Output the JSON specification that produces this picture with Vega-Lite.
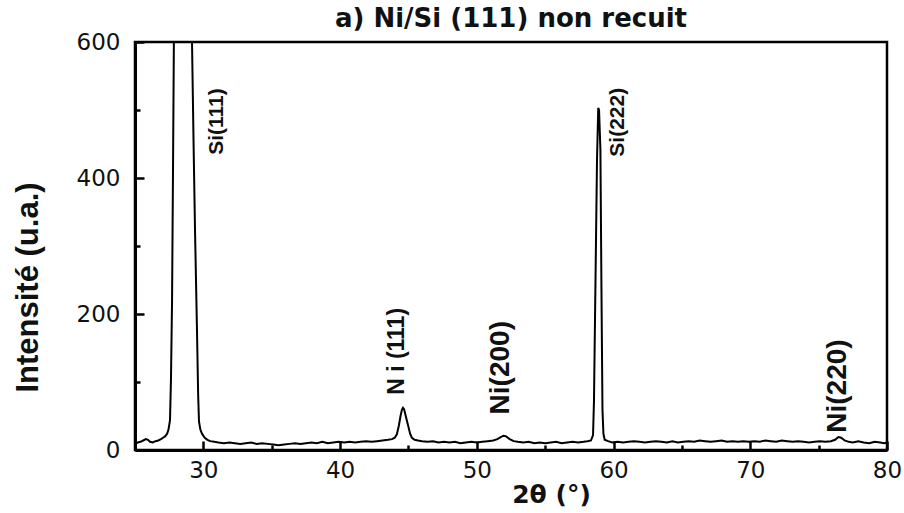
{
  "$schema": "https://vega.github.io/schema/vega-lite/v6.json",
  "width": 752,
  "height": 408,
  "autosize": {"type": "none"},
  "padding": {"left": 135, "top": 42, "right": 17, "bottom": 63},
  "background": "white",
  "title": {
    "text": "a) Ni/Si (111) non recuit",
    "font": "DejaVu Sans",
    "fontSize": 26,
    "fontWeight": "bold",
    "color": "#111",
    "anchor": "middle",
    "offset": 13,
    "dy": 14
  },
  "config": {
    "view": {"stroke": "black", "strokeWidth": 2.5},
    "axis": {"grid": false}
  },
  "datasets": {
    "pattern": [
      {"theta": 25.0, "intensity": 9}, {"theta": 25.2, "intensity": 11}, {"theta": 25.4, "intensity": 12},
      {"theta": 25.6, "intensity": 14}, {"theta": 25.8, "intensity": 16}, {"theta": 25.95, "intensity": 15},
      {"theta": 26.1, "intensity": 12}, {"theta": 26.3, "intensity": 11}, {"theta": 26.5, "intensity": 13},
      {"theta": 26.7, "intensity": 14}, {"theta": 26.9, "intensity": 16}, {"theta": 27.05, "intensity": 18},
      {"theta": 27.2, "intensity": 20}, {"theta": 27.35, "intensity": 24}, {"theta": 27.45, "intensity": 30},
      {"theta": 27.56, "intensity": 44}, {"theta": 27.63, "intensity": 103}, {"theta": 27.71, "intensity": 220},
      {"theta": 27.78, "intensity": 412}, {"theta": 27.85, "intensity": 620}, {"theta": 27.95, "intensity": 900},
      {"theta": 28.2, "intensity": 1300}, {"theta": 28.5, "intensity": 1450}, {"theta": 28.8, "intensity": 1300},
      {"theta": 29.05, "intensity": 900}, {"theta": 29.17, "intensity": 600}, {"theta": 29.28, "intensity": 456},
      {"theta": 29.39, "intensity": 323}, {"theta": 29.53, "intensity": 180}, {"theta": 29.62, "intensity": 80},
      {"theta": 29.68, "intensity": 42}, {"theta": 29.78, "intensity": 30}, {"theta": 29.9, "intensity": 24},
      {"theta": 30.1, "intensity": 18}, {"theta": 30.3, "intensity": 15}, {"theta": 30.5, "intensity": 13},
      {"theta": 30.8, "intensity": 12}, {"theta": 31.1, "intensity": 11}, {"theta": 31.5, "intensity": 10},
      {"theta": 31.9, "intensity": 11}, {"theta": 32.3, "intensity": 10}, {"theta": 32.7, "intensity": 9},
      {"theta": 33.1, "intensity": 10}, {"theta": 33.5, "intensity": 11}, {"theta": 33.9, "intensity": 9},
      {"theta": 34.3, "intensity": 10}, {"theta": 34.7, "intensity": 9}, {"theta": 35.1, "intensity": 8},
      {"theta": 35.5, "intensity": 7}, {"theta": 35.9, "intensity": 8}, {"theta": 36.3, "intensity": 9},
      {"theta": 36.7, "intensity": 10}, {"theta": 37.1, "intensity": 9}, {"theta": 37.5, "intensity": 10},
      {"theta": 37.9, "intensity": 11}, {"theta": 38.3, "intensity": 10}, {"theta": 38.7, "intensity": 12},
      {"theta": 39.1, "intensity": 10}, {"theta": 39.5, "intensity": 11}, {"theta": 39.9, "intensity": 12},
      {"theta": 40.3, "intensity": 11}, {"theta": 40.7, "intensity": 12}, {"theta": 41.1, "intensity": 11},
      {"theta": 41.5, "intensity": 12}, {"theta": 41.9, "intensity": 13}, {"theta": 42.3, "intensity": 12},
      {"theta": 42.7, "intensity": 13}, {"theta": 43.1, "intensity": 14}, {"theta": 43.5, "intensity": 15},
      {"theta": 43.8, "intensity": 16}, {"theta": 44.0, "intensity": 18}, {"theta": 44.15, "intensity": 23},
      {"theta": 44.3, "intensity": 36}, {"theta": 44.42, "intensity": 50}, {"theta": 44.52, "intensity": 59},
      {"theta": 44.6, "intensity": 62}, {"theta": 44.68, "intensity": 60}, {"theta": 44.78, "intensity": 52},
      {"theta": 44.9, "intensity": 42}, {"theta": 45.0, "intensity": 34}, {"theta": 45.12, "intensity": 24},
      {"theta": 45.25, "intensity": 18}, {"theta": 45.45, "intensity": 15}, {"theta": 45.7, "intensity": 14},
      {"theta": 46.0, "intensity": 13}, {"theta": 46.4, "intensity": 12}, {"theta": 46.8, "intensity": 13},
      {"theta": 47.2, "intensity": 11}, {"theta": 47.6, "intensity": 12}, {"theta": 48.0, "intensity": 11},
      {"theta": 48.4, "intensity": 12}, {"theta": 48.8, "intensity": 10}, {"theta": 49.2, "intensity": 11},
      {"theta": 49.6, "intensity": 12}, {"theta": 50.0, "intensity": 11}, {"theta": 50.4, "intensity": 12},
      {"theta": 50.8, "intensity": 13}, {"theta": 51.2, "intensity": 14}, {"theta": 51.5, "intensity": 16},
      {"theta": 51.75, "intensity": 19}, {"theta": 51.95, "intensity": 21}, {"theta": 52.15, "intensity": 20},
      {"theta": 52.4, "intensity": 16}, {"theta": 52.7, "intensity": 13}, {"theta": 53.0, "intensity": 12},
      {"theta": 53.4, "intensity": 11}, {"theta": 53.8, "intensity": 12}, {"theta": 54.2, "intensity": 10},
      {"theta": 54.6, "intensity": 11}, {"theta": 55.0, "intensity": 10}, {"theta": 55.4, "intensity": 11},
      {"theta": 55.8, "intensity": 12}, {"theta": 56.2, "intensity": 10}, {"theta": 56.6, "intensity": 11},
      {"theta": 57.0, "intensity": 12}, {"theta": 57.4, "intensity": 11}, {"theta": 57.8, "intensity": 12},
      {"theta": 58.1, "intensity": 13}, {"theta": 58.35, "intensity": 14}, {"theta": 58.5, "intensity": 22},
      {"theta": 58.57, "intensity": 73}, {"theta": 58.68, "intensity": 250}, {"theta": 58.79, "intensity": 426},
      {"theta": 58.88, "intensity": 503}, {"theta": 58.94, "intensity": 500}, {"theta": 59.04, "intensity": 441},
      {"theta": 59.11, "intensity": 250}, {"theta": 59.19, "intensity": 59}, {"theta": 59.26, "intensity": 24},
      {"theta": 59.35, "intensity": 15}, {"theta": 59.6, "intensity": 13}, {"theta": 59.9, "intensity": 11},
      {"theta": 60.3, "intensity": 12}, {"theta": 60.7, "intensity": 11}, {"theta": 61.1, "intensity": 12},
      {"theta": 61.5, "intensity": 13}, {"theta": 61.9, "intensity": 12}, {"theta": 62.3, "intensity": 11},
      {"theta": 62.7, "intensity": 12}, {"theta": 63.1, "intensity": 13}, {"theta": 63.5, "intensity": 12},
      {"theta": 63.9, "intensity": 11}, {"theta": 64.3, "intensity": 13}, {"theta": 64.7, "intensity": 11},
      {"theta": 65.1, "intensity": 12}, {"theta": 65.5, "intensity": 13}, {"theta": 65.9, "intensity": 12},
      {"theta": 66.3, "intensity": 14}, {"theta": 66.7, "intensity": 13}, {"theta": 67.1, "intensity": 12},
      {"theta": 67.5, "intensity": 13}, {"theta": 67.9, "intensity": 14}, {"theta": 68.3, "intensity": 12},
      {"theta": 68.7, "intensity": 13}, {"theta": 69.1, "intensity": 12}, {"theta": 69.5, "intensity": 13},
      {"theta": 69.9, "intensity": 12}, {"theta": 70.3, "intensity": 13}, {"theta": 70.7, "intensity": 12},
      {"theta": 71.1, "intensity": 14}, {"theta": 71.5, "intensity": 13}, {"theta": 71.9, "intensity": 12},
      {"theta": 72.3, "intensity": 14}, {"theta": 72.7, "intensity": 13}, {"theta": 73.1, "intensity": 12},
      {"theta": 73.5, "intensity": 13}, {"theta": 73.9, "intensity": 12}, {"theta": 74.3, "intensity": 11},
      {"theta": 74.7, "intensity": 12}, {"theta": 75.1, "intensity": 13}, {"theta": 75.5, "intensity": 12},
      {"theta": 75.9, "intensity": 13}, {"theta": 76.2, "intensity": 15}, {"theta": 76.45, "intensity": 19},
      {"theta": 76.65, "intensity": 18}, {"theta": 76.9, "intensity": 14}, {"theta": 77.2, "intensity": 12},
      {"theta": 77.5, "intensity": 11}, {"theta": 77.9, "intensity": 13}, {"theta": 78.3, "intensity": 11},
      {"theta": 78.7, "intensity": 10}, {"theta": 79.1, "intensity": 12}, {"theta": 79.5, "intensity": 11},
      {"theta": 79.8, "intensity": 10}, {"theta": 80.0, "intensity": 11}
    ],
    "peaks": [
      {"label": "Si(111)", "group": "si", "theta": 31.03, "intensity": 483},
      {"label": "Si(222)", "group": "si", "theta": 60.33, "intensity": 482},
      {"label": "N i (111)", "group": "ni111", "theta": 44.13, "intensity": 145},
      {"label": "Ni(200)", "group": "ni", "theta": 51.8, "intensity": 121},
      {"label": "Ni(220)", "group": "ni", "theta": 76.45, "intensity": 94}
    ]
  },
  "layer": [
    {
      "data": {"name": "pattern"},
      "mark": {"type": "line", "stroke": "black", "strokeWidth": 2, "clip": true},
      "encoding": {
        "x": {
          "field": "theta", "type": "quantitative",
          "scale": {"domain": [25, 80], "nice": false, "zero": false},
          "axis": {
            "values": [30, 40, 50, 60, 70, 80],
            "tickSize": -9, "tickWidth": 2.5, "tickColor": "black",
            "domainColor": "black", "domainWidth": 3,
            "labelFont": "DejaVu Sans", "labelFontSize": 23, "labelColor": "#111",
            "labelPadding": 18, "labelFlush": false,
            "title": "2θ (°)", "titleFont": "DejaVu Sans", "titleFontSize": 25,
            "titleFontWeight": "bold", "titleColor": "#111",
            "titleX": 416, "titleY": 52, "titleAlign": "center", "titleBaseline": "alphabetic"
          }
        },
        "y": {
          "field": "intensity", "type": "quantitative",
          "scale": {"domain": [0, 600], "nice": false},
          "axis": {
            "values": [0, 200, 400, 600],
            "tickSize": -9, "tickWidth": 2.5, "tickColor": "black",
            "domainColor": "black", "domainWidth": 3,
            "labelFont": "DejaVu Sans", "labelFontSize": 23, "labelColor": "#111",
            "labelPadding": 24, "labelFlush": false,
            "title": "Intensité (u.a.)", "titleFont": "Liberation Sans", "titleFontSize": 31,
            "titleFontWeight": "bold", "titleColor": "#111",
            "titleAngle": 270, "titleX": -107, "titleY": 245,
            "titleAlign": "center", "titleBaseline": "middle"
          }
        }
      }
    },
    {
      "data": {"name": "peaks"},
      "transform": [{"filter": "datum.group === 'si'"}],
      "mark": {"type": "text", "angle": 270, "font": "Liberation Sans", "fontWeight": "bold",
               "fontSize": 21, "align": "center", "baseline": "middle", "color": "#111"},
      "encoding": {
        "text": {"field": "label"},
        "x": {
          "field": "theta", "type": "quantitative",
          "scale": {"domain": [25, 80], "nice": false, "zero": false},
          "axis": {
            "orient": "bottom", "values": [35, 45, 55, 65, 75],
            "tickSize": -5, "tickWidth": 2.5, "tickColor": "black",
            "domain": false, "labels": false, "title": null
          }
        },
        "y": {
          "field": "intensity", "type": "quantitative",
          "scale": {"domain": [0, 600], "nice": false},
          "axis": {
            "orient": "left", "values": [100, 300, 500],
            "tickSize": -5, "tickWidth": 2.5, "tickColor": "black",
            "domain": false, "labels": false, "title": null
          }
        }
      }
    },
    {
      "data": {"name": "peaks"},
      "transform": [{"filter": "datum.group === 'ni111'"}],
      "mark": {"type": "text", "angle": 270, "font": "Liberation Sans", "fontWeight": "bold",
               "fontSize": 23, "align": "center", "baseline": "middle", "color": "#111"},
      "encoding": {
        "text": {"field": "label"},
        "x": {"field": "theta", "type": "quantitative", "scale": {"domain": [25, 80], "nice": false, "zero": false}, "axis": null},
        "y": {"field": "intensity", "type": "quantitative", "scale": {"domain": [0, 600], "nice": false}, "axis": null}
      }
    },
    {
      "data": {"name": "peaks"},
      "transform": [{"filter": "datum.group === 'ni'"}],
      "mark": {"type": "text", "angle": 270, "font": "Liberation Sans", "fontWeight": "bold",
               "fontSize": 28, "align": "center", "baseline": "middle", "color": "#111"},
      "encoding": {
        "text": {"field": "label"},
        "x": {"field": "theta", "type": "quantitative", "scale": {"domain": [25, 80], "nice": false, "zero": false}, "axis": null},
        "y": {"field": "intensity", "type": "quantitative", "scale": {"domain": [0, 600], "nice": false}, "axis": null}
      }
    }
  ],
  "resolve": {"axis": {"x": "independent", "y": "independent"}}
}
